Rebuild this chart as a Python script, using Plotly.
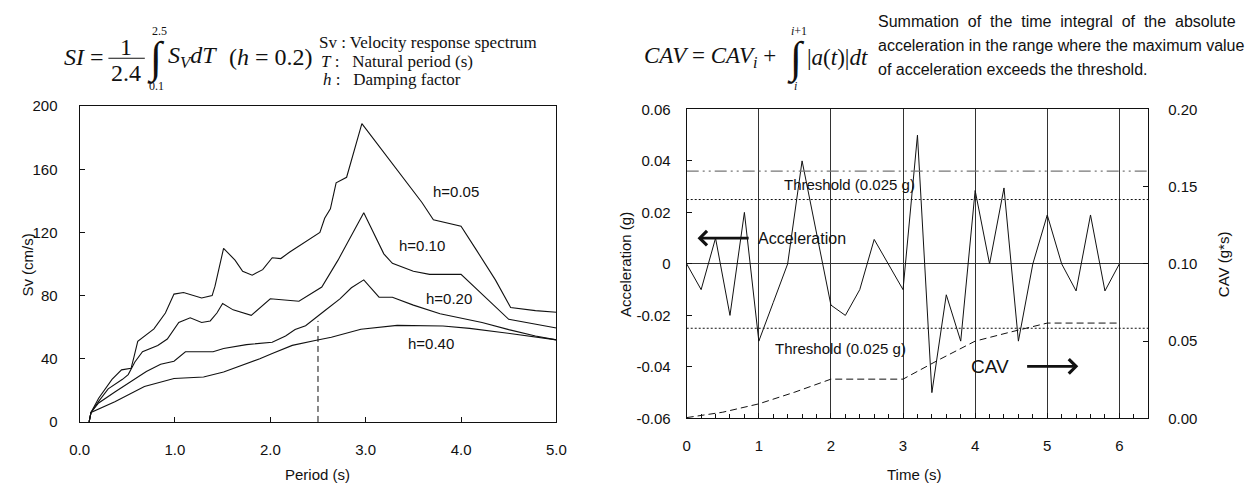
import plotly.graph_objects as go

W, H = 1251, 493

# ---------------- Data: left chart (velocity response spectra) ----------------
T_h005 = [0.10, 0.12, 0.20, 0.34, 0.44, 0.54, 0.57, 0.61, 0.78, 0.90, 0.99, 1.09, 1.28, 1.39, 1.42,
          1.47, 1.51, 1.63, 1.71, 1.81, 1.92, 2.02, 2.11, 2.20, 2.33, 2.44, 2.52, 2.57, 2.63, 2.69,
          2.80, 2.96, 3.59, 3.71, 4.00, 4.16, 4.36, 4.52, 4.78, 5.00]
Sv_h005 = [0, 6, 15, 27, 33, 34, 41, 51, 59, 69, 81, 82, 78.5, 80, 86,
           99.5, 110, 102.5, 95.5, 93, 96.5, 104, 103.5, 107.5, 112.5, 117, 120, 129, 135, 151.5,
           155, 189, 139, 128, 124, 109, 90, 72.5, 70.5, 69.5]

T_h010 = [0.10, 0.12, 0.20, 0.30, 0.45, 0.51, 0.58, 0.66, 0.82, 0.92, 1.04, 1.16, 1.28, 1.37, 1.44,
          1.50, 1.61, 1.80, 2.00, 2.30, 2.54, 2.71, 2.98, 3.19, 3.28, 3.50, 3.67, 4.00, 4.50, 5.00]
Sv_h010 = [0, 6, 13, 21, 27, 30, 38, 44.5, 48.5, 52.5, 63, 66, 63, 64, 69,
           75, 71, 67.5, 78, 76.5, 85.5, 102.5, 132.5, 106.5, 100.5, 95.5, 93.5, 93.5, 65, 59.5]

T_h020 = [0.10, 0.12, 0.20, 0.37, 0.70, 0.85, 0.99, 1.11, 1.40, 1.51, 1.75, 2.02, 2.16, 2.26, 2.37,
          2.47, 2.56, 2.73, 2.85, 2.98, 3.14, 3.28, 3.50, 3.78, 3.98, 4.22, 4.50, 4.78, 5.00]
Sv_h020 = [0, 6, 12, 19, 32, 36.5, 38.5, 44.5, 44.5, 46.5, 49, 50.5, 54.5, 58.5, 61,
           66, 70, 78, 85, 90, 79, 79, 74, 68.5, 66, 63, 58.5, 54.5, 52]

T_h040 = [0.10, 0.12, 0.37, 0.68, 0.99, 1.30, 1.51, 1.68, 1.89, 2.02, 2.23, 2.47, 2.64, 2.95, 3.33,
          3.81, 4.09, 4.43, 5.00]
Sv_h040 = [0, 6, 12.8, 22.4, 27.5, 28.5, 31.6, 35.3, 40, 43.4, 48.5, 51.6, 53.6, 58.7, 61.2,
           60.8, 59.3, 56.7, 52]

si_limit_T = [2.5, 2.5]
si_limit_Sv = [0, 64]

curve_labels = ["h=0.05", "h=0.10", "h=0.20", "h=0.40"]
label_T = [3.95, 3.59, 3.87, 3.69]
label_Sv = [146, 112, 78, 49.5]

period_ticks = [0, 1, 2, 3, 4, 5]
period_ticktext = ["0.0", "1.0", "2.0", "3.0", "4.0", "5.0"]
sv_ticks = [0, 40, 80, 120, 160, 200]

# ---------------- Data: right chart (acceleration & CAV) ----------------
time_acc = [0.0, 0.2, 0.4, 0.6, 0.8, 1.0, 1.2, 1.4, 1.6, 1.8, 2.0, 2.2, 2.4, 2.6, 2.8, 3.0,
            3.2, 3.4, 3.6, 3.8, 4.0, 4.2, 4.4, 4.6, 4.8, 5.0, 5.2, 5.4, 5.6, 5.8, 6.0]
acc = [0, -0.01, 0.01, -0.02, 0.02, -0.03, -0.015, 0, 0.04, 0.012, -0.016, -0.02, -0.01, 0.0095, 0, -0.01,
       0.05, -0.05, -0.012, -0.03, 0.0285, 0, 0.0295, -0.03, 0, 0.019, 0, -0.0105, 0.019, -0.0105, 0]

time_cav = [0.0, 0.5, 1.0, 1.5, 2.0, 3.0, 3.5, 4.0, 4.5, 5.0, 6.0]
cav = [0.0005, 0.004, 0.0094, 0.017, 0.0254, 0.0254, 0.038, 0.050, 0.056, 0.0617, 0.0617]

acc_threshold = 0.025
cav_threshold = 0.16

time_ticks = [0, 1, 2, 3, 4, 5, 6]
acc_ticks = [-0.06, -0.04, -0.02, 0, 0.02, 0.04, 0.06]
acc_ticktext = ["-0.06", "-0.04", "-0.02", "0", "0.02", "0.04", "0.06"]
cav_ticks = [0, 0.05, 0.10, 0.15, 0.20]

# ---------------- Figure ----------------
SANS = "Liberation Sans, Arial, sans-serif"
SERIF = "Liberation Serif, DejaVu Serif, Times New Roman, serif"
BLACK = "#111111"
NB = "\u00a0"

def px(x, y):
    return x / W, 1 - y / H

fig = go.Figure()

for T, S in [(T_h005, Sv_h005), (T_h010, Sv_h010), (T_h020, Sv_h020), (T_h040, Sv_h040)]:
    fig.add_trace(go.Scatter(x=T, y=S, mode="lines", line=dict(color=BLACK, width=1.1),
                             xaxis="x", yaxis="y", showlegend=False, hoverinfo="skip"))
fig.add_trace(go.Scatter(x=si_limit_T, y=si_limit_Sv, mode="lines",
                         line=dict(color=BLACK, width=1, dash="6px,4px"),
                         xaxis="x", yaxis="y", showlegend=False, hoverinfo="skip"))

# right chart traces
fig.add_trace(go.Scatter(x=[0, 6.4], y=[acc_threshold, acc_threshold], mode="lines",
                         line=dict(color=BLACK, width=1, dash="2px,2px"),
                         xaxis="x2", yaxis="y2", showlegend=False, hoverinfo="skip"))
fig.add_trace(go.Scatter(x=[0, 6.4], y=[-acc_threshold, -acc_threshold], mode="lines",
                         line=dict(color=BLACK, width=1, dash="2px,2px"),
                         xaxis="x2", yaxis="y2", showlegend=False, hoverinfo="skip"))
fig.add_trace(go.Scatter(x=time_acc, y=acc, mode="lines", line=dict(color=BLACK, width=1),
                         xaxis="x2", yaxis="y2", showlegend=False, hoverinfo="skip"))
fig.add_trace(go.Scatter(x=[0, 6.4], y=[cav_threshold, cav_threshold], mode="lines",
                         line=dict(color="#777777", width=1.2, dash="12px,4px,2px,4px,2px,4px"),
                         xaxis="x2", yaxis="y3", showlegend=False, hoverinfo="skip"))
fig.add_trace(go.Scatter(x=time_cav, y=cav, mode="lines",
                         line=dict(color=BLACK, width=1, dash="7px,4px"),
                         xaxis="x2", yaxis="y3", showlegend=False, hoverinfo="skip"))

Lx = [70.7 / W, 555.3 / W]
Ly = [1 - 427.7 / H, 1 - 100.7 / H]
Rx = [687.7 / W, 1156.7 / W]
Ry = [1 - 424 / H, 1 - 104 / H]

tickfont = dict(family=SANS, size=15, color=BLACK)
axis_common = dict(showline=True, linecolor=BLACK, linewidth=1, ticks="inside", tickcolor=BLACK,
                   ticklen=5, tickfont=tickfont, zeroline=False, showgrid=False)

fig.update_layout(
    width=W, height=H, margin=dict(l=0, r=0, t=0, b=0),
    plot_bgcolor="white", paper_bgcolor="white", showlegend=False,
    xaxis=dict(domain=Lx, range=[0, 5], tickvals=period_ticks, ticktext=period_ticktext,
               mirror=True, anchor="y", ticklabelstandoff=14, **axis_common),
    yaxis=dict(domain=Ly, range=[0, 200], tickvals=sv_ticks, mirror=True, anchor="x",
               ticklabelstandoff=18, **axis_common),
    xaxis2=dict(domain=Rx, range=[0, 6.4], tickvals=time_ticks, mirror=True, anchor="y2",
                ticklabelstandoff=14,
                minor=dict(dtick=0.2, tick0=0, ticks="inside", ticklen=4, tickcolor=BLACK, showgrid=False),
                **{**axis_common, "showgrid": True}, gridcolor="#333333", gridwidth=1),
    yaxis2=dict(domain=Ry, range=[-0.06, 0.06], tickvals=acc_ticks, ticktext=acc_ticktext,
                anchor="x2", ticklabelstandoff=12,
                **{**axis_common, "zeroline": True}, zerolinecolor="#333333", zerolinewidth=1),
    yaxis3=dict(range=[0, 0.20], tickvals=cav_ticks, tickformat=".2f", overlaying="y2",
                side="right", anchor="x2", ticklabelstandoff=16, **axis_common),
)

ann = []
def text(x, y, s, size=14, family=SANS, xanchor="center", angle=0):
    ax_, ay_ = px(x, y)
    ann.append(dict(x=ax_, y=ay_, xref="paper", yref="paper", text=s, showarrow=False,
                    xanchor=xanchor, yanchor="middle", textangle=angle,
                    font=dict(family=family, size=size, color=BLACK)))

# axis titles
text(18, 265, "Sv (cm/s)", 15, angle=-90)
text(312, 482, "Period (s)", 15)
text(626, 264, "Acceleration (g)", 15, angle=-90)
text(1234, 264, "CAV (g*s)", 15, angle=-90)
text(919, 482, "Time (s)", 15)

# left formula
text(53, 50, "<i>SI</i> =", 24, SERIF, "left")
text(118, 39, "1", 24, SERIF)
text(118, 66, "2.4", 24, SERIF)
text(148, 51, "∫", 44, SERIF)
text(152, 23, "2.5", 12, SERIF)
text(149, 80, "0.1", 12, SERIF)
text(159, 50, "<i>S<sub>V</sub>dT</i>", 24, SERIF, "left")
text(221, 50, "(<i>h</i> = 0.2)", 24, SERIF, "left")
text(312, 35, "Sv : Velocity response spectrum", 17, SERIF, "left")
text(314, 54, "<i>T</i> :" + NB * 2 + " Natural period (s)", 17, SERIF, "left")
text(316, 73, "<i>h</i> :" + NB * 2 + " Damping factor", 17, SERIF, "left")

# right formula
text(642, 50, "<i>CAV</i> = <i>CAV<sub>i</sub></i> +", 23, SERIF, "left")
text(799, 51, "∫", 44, SERIF)
text(802, 23, "<i>i</i>+1", 12, SERIF)
text(798, 80, "<i>i</i>", 12, SERIF)
text(808, 50, "|<i>a</i>(<i>t</i>)|<i>dt</i>", 23, SERIF, "left")
line1 = (NB * 2).join(["Summation", "of", "the", "time", "integral", "of", "the", "absolute"])
text(880, 13, line1, 16, SANS, "left")
text(880, 38, "acceleration in the range where the maximum value", 16, SANS, "left")
text(880, 63, "of acceleration exceeds the threshold.", 16, SANS, "left")

# curve labels (data coords)
for lab, tx, sy in zip(curve_labels, label_T, label_Sv):
    ann.append(dict(x=tx, y=sy, xref="x", yref="y", text=lab, showarrow=False,
                    font=dict(family=SANS, size=15, color=BLACK)))

# right chart labels
ann.append(dict(x=2.26, y=0.031, xref="x2", yref="y2", text="Threshold (0.025 g)", showarrow=False,
                font=dict(family=SANS, size=15, color=BLACK)))
ann.append(dict(x=2.13, y=-0.033, xref="x2", yref="y2", text="Threshold (0.025 g)", showarrow=False,
                font=dict(family=SANS, size=15, color=BLACK)))
ann.append(dict(x=1.6, y=0.01, xref="x2", yref="y2", text="Acceleration", showarrow=False,
                font=dict(family=SANS, size=16, color=BLACK)))
ann.append(dict(x=0.15, y=0.01, xref="x2", yref="y2", ax=0.88, ay=0.01, axref="x2", ayref="y2",
                text="", showarrow=True, arrowhead=4, arrowsize=1.0, arrowwidth=2.8, arrowcolor=BLACK))
ann.append(dict(x=4.21, y=-0.0398, xref="x2", yref="y2", text="CAV", showarrow=False,
                font=dict(family=SANS, size=19, color=BLACK)))
ann.append(dict(x=5.43, y=-0.0398, xref="x2", yref="y2", ax=4.70, ay=-0.0398, axref="x2", ayref="y2",
                text="", showarrow=True, arrowhead=4, arrowsize=1.0, arrowwidth=2.8, arrowcolor=BLACK))

fig.update_layout(annotations=ann)

# fraction bar
b0 = px(100, 51)
b1 = px(137, 51)
fig.add_shape(type="line", xref="paper", yref="paper", x0=b0[0], y0=b0[1], x1=b1[0], y1=b1[1],
              line=dict(color=BLACK, width=1.2))

fig.write_html("out.html", config={"displayModeBar": False},
               post_script="document.body.style.margin='0';")
